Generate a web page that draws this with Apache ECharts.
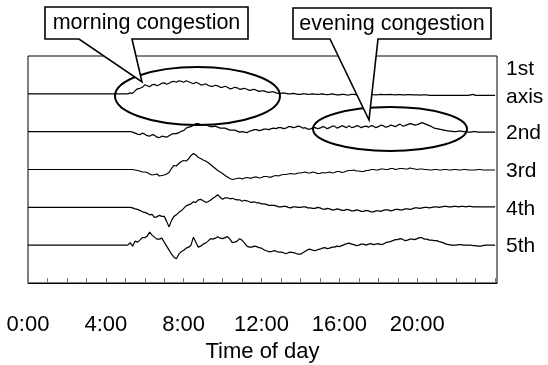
<!DOCTYPE html>
<html><head><meta charset="utf-8">
<script src="https://cdn.jsdelivr.net/npm/echarts@6/dist/echarts.min.js"></script>
<style>html,body{margin:0;padding:0;background:#fff}#c{width:548px;height:365px}</style>
</head><body><div id="c"></div>
<script>
// time axis in hours; readings every 0.125 h (7.5 min) from 5:15 to 24:00, traces flat before that
const START = 5.25;
const STEP = 0.125;
const xTicks = ['0:00','4:00','8:00','12:00','16:00','20:00'];
const traceNames = ['1st','2nd','3rd','4th','5th'];
// deviations from each trace's rest level (amplitude units)
const axle1 = [1,0.5,3,5,5.5,6.5,9,8,7,9, 9.5,8,9,10.5,11,9.5,10.5,12,12.5,11.5, 13,12.5,11.5,13,12,11,10,11.5,10.5,9, 9,10,8.5,7.5,7.5,8.5,8,6.5,6.5,7.5, 6.5,5,5.5,6.5,6,4.5,5,5.5,4.5,3.5, 4,4.5,3.5,2.5,3,3,2,1.5,2,2, 1,0.5,0.5,1,0.5,0,0,0.5,0,-0.5, -0.5,0,0,-0.5,-0.3,0,-0.3,-0.5,-0.3,0, -0.5,-0.8,-0.5,0,-0.5,-1,-1,-0.5,-0.5,-1.2, -1,-0.5,-0.5,-1,-0.5,-0.3,-0.5,-0.8,-0.8,-0.5, -0.8,-1,-0.8,-0.5,-0.8,-0.8,-0.8,-0.5,-0.8,-1, -0.8,-0.8,-1,-1,-0.8,-0.8,-1,-1,-1,-1.2, -1,-1,-1,-1.5,-1.5,-1.5,-1.5,-1.5,-1.5,-1.5, -1.5,-1.5,-1.5,-1.5,-1.5,-1.5,-1.5,-1.5,-1.5,-1.5, -1,-0.5,-1.5,-1.5,-1.5,-1.5,-1.5,-1.5,-1.5,-1.5,-1.5];
const axle2 = [0,-0.5,-1.5,-2.5,-3,-1.5,-2.5,-4,-4.5,-3, -3.5,-5.5,-6,-4.5,-5,-5.5,-4,-2.5,-2,-2, -1,0.5,1,3.5,4.5,5,6.5,8,8,7, 6.5,7,6,5,5,5.5,4.5,3.5,3.5,3.5, 2.5,1.5,1.5,1.5,0.5,-0.5,0,-0.5,-1,0.5, 1,2,2,1,1.5,2.5,2.5,2,3,3.5, 3,4,4,3,3.5,5,5,4,4.5,5.5, 5,3.5,4,2.5,2.5,4,4,3,3.5,5, 4.5,3,4,5.5,5.5,3.5,4.5,6,5,4, 6,4,4.5,6,5.5,4,5,5.5,4.5,6, 5.5,4,5,6.5,6,4.5,5,6.5,6,5, 6.5,7.5,5.5,6,7,8,7.5,6.5,7,8, 9,8,7,6,5,3.5,3,2.5,2,1.5, 1,0.5,0.5,0,0,0.5,0.5,0,0,-0.5, -0.5,0,0,-0.5,-0.5,-0.5,-0.5,-0.5,-0.5,-0.5,-0.5];
const axle3 = [0,0,-0.5,-1,-1.5,-2.5,-2.5,-3,-4.5,-5.5, -5,-4.5,-6.5,-6,-5.5,-4.5,-3,1,4,3.5, 6,8,9,8.5,10.5,14,16,14.5,12,11, 9.5,8.5,7,5,3,1,-1,-2.5,-4,-6, -7.5,-9,-10,-9.5,-9,-8.5,-9.5,-8.5,-8,-8.5, -8.5,-7.5,-7.5,-8.5,-8,-7,-7,-7.5,-7.5,-6.5, -6,-6.5,-5.5,-5,-5,-4.5,-4,-4.5,-4.5,-3.5, -3.5,-3,-2.5,-3.5,-3.5,-2.5,-3,-4,-4,-3, -3.5,-3,-2.5,-3.5,-3,-2,-2,-3,-2.5,-1.5, -1,-1,-0.5,-1.5,-1.5,-2,-2,-1,-1,0, 0,-0.5,-0.5,0.5,0.5,0,0,1,1,0, 0.5,1,1,0.5,0.5,1.5,1,0.5,0,0.5, 0.5,0,0,-0.5,-0.5,0,0,-0.5,-0.5,0, 0,-0.5,-0.5,0,0,-0.5,-0.5,0,0,-0.5, -0.5,-0.5,-0.5,0,0,-0.5,-0.5,-0.5,-0.5,-0.5,-0.5];
const axle4 = [0,-0.5,-1.5,-2,-3,-4.5,-5,-6,-7.5,-7, -10,-9.5,-8,-9,-9,-14,-19.5,-13,-9,-7.5, -5,-3.5,-1,1.5,2.5,3.5,5.5,5,7.5,8, 6.5,5,5.5,7,9,10.5,12.5,10,8,9.5, 9.5,8.5,9,8,7.5,7.5,6,7,6.5,5.5, 5,5.5,4.5,4.5,3.5,3.5,3,2,2,2, 1.5,0.5,0.5,1,1,0,-0.5,0.5,0.5,0, 0,0.5,0.5,-0.5,-0.5,-1,-1,0,-0.5,-1.5, -2,-1,-1.5,-2.5,-2.5,-1.5,-2,-3,-3,-2, -2.5,-3.5,-3.5,-2.5,-3,-4,-4,-3,-3.5,-4.5, -4.5,-3.5,-3.5,-4,-3,-2.5,-2.5,-3.5,-3,-2, -2,-2.5,-2.5,-1.5,-1.5,-2,-1.5,-0.5,-0.5,-1, -0.5,0,0,-0.5,0,0.5,0.5,0,0.5,1, 1,0.5,0.5,1,1,0.5,1,1,0.5,1, 1,0.5,0.5,0.5,0.5,0.5,0.5,0.5,0.5,0.5,0.5];
const axle5 = [2.5,-1,4,3,5,7.5,7.5,9,13,10, 8,6,6,7,3,-1,-5,-9,-12,-13.5, -9,-6.5,-5,-3,-2,0,8,3,-2,-1, 1,2,4,6.5,6,7,8.5,7,6.5,7.5, 8.5,6,2.5,3,4,6.5,5,2,-1,-2, -2,-1,-1.5,-2.5,-3,-4.5,-5.5,-6.5,-6.5,-5.5, -6,-7,-7,-7.5,-8.5,-7.5,-7,-7.5,-8,-9, -9,-7.5,-6,-4.5,-4,-5,-5.5,-4.5,-4,-3, -2.5,-3.5,-3,-2,-2,-1,-1.5,-0.5,0.5,1.5, 2,1,0.5,-0.5,0,1,1,0,1,1.5, 0.5,1,1.5,0.5,1,2.5,3,3.5,4.5,5.5, 5.5,6.5,6,4.5,5,6,6,5.5,6.5,7.5, 7.5,6,6,5,5,4.5,4.5,3.5,3,2, 1,0.5,0,0,0,0.5,0.5,0,0,0, 0,-0.5,-0.5,-1,-1,-0.5,0,0,0,0,0];
const traces = [axle1, axle2, axle3, axle4, axle5];
const restLevel = [5, 4, 3, 2, 1];
const AMP = 1 / 37.7;

function buildSeries(dev, level) {
  const pts = [];
  for (let h = 0; h < START - 1e-9; h += STEP) pts.push([h, level]);
  dev.forEach((d, i) => pts.push([START + i * STEP, level + d * AMP]));
  return pts;
}

const FONT = "'Liberation Sans', Arial, sans-serif";
const chart = echarts.init(document.getElementById('c'), null, {renderer: 'canvas'});
const series = traces.map((t, k) => ({
  type: 'line', data: buildSeries(t, restLevel[k]), symbol: 'none',
  lineStyle: {color: '#000', width: 1.2}, animation: false, z: 2
}));

chart.setOption({
  animation: false,
  grid: {left: 28, right: 51, top: 56, bottom: 82, show: true, borderColor: '#000', borderWidth: 1,
         containLabel: false, outerBoundsMode: 'none'},
  xAxis: {
    type: 'value', min: 0, max: 24.1, interval: 1,
    axisLine: {lineStyle: {color: '#000', width: 1}},
    axisTick: {inside: true, length: 5, lineStyle: {color: '#777'}},
    splitLine: {show: false},
    axisLabel: {
      margin: 31, fontSize: 22, color: '#000', fontFamily: FONT,
      formatter: v => (Math.abs(v % 4) < 1e-6 && v < 24 ? xTicks[v / 4] : '')
    },
    name: 'Time of day', nameLocation: 'middle', nameGap: 58,
    nameTextStyle: {fontSize: 22, color: '#000', fontFamily: FONT}
  },
  yAxis: {type: 'value', min: 0, max: 6, show: false},
  series: series
});

function px(x, y) { return chart.convertToPixel({gridIndex: 0}, [x, y]); }
const labelX = px(24.1, 0)[0] + 9;
const gfx = [];
const lbl = (t, y) => ({type: 'text', x: labelX, y: y, style: {text: t, font: '21px ' + FONT, fill: '#000', align: 'left', verticalAlign: 'middle'}});
traceNames.forEach((n, k) => {
  const y = px(0, restLevel[k])[1];
  if (k === 0) {
    gfx.push(lbl('1st', y + 3.5 - 28));
    gfx.push(lbl('axis', y + 3.5));
  } else {
    gfx.push(lbl(n, y + 1.5));
  }
});
// ellipses highlighting congestion periods
gfx.push({type: 'ellipse', shape: {cx: 197.5, cy: 96, rx: 82.5, ry: 29}, style: {fill: null, stroke: '#000', lineWidth: 2}, z: 10});
gfx.push({type: 'ellipse', shape: {cx: 390, cy: 129, rx: 77, ry: 22}, style: {fill: null, stroke: '#000', lineWidth: 2}, z: 10});
// callouts
gfx.push({type: 'polygon', shape: {points: [[45,7],[248,7],[248,39],[132,39],[142,82],[79,39],[45,39]]}, style: {fill: '#fff', stroke: '#000', lineWidth: 1.6}, z: 11});
gfx.push({type: 'text', x: 146.5, y: 23.5, style: {text: 'morning congestion', font: '21.5px ' + FONT, fill: '#000', align: 'center', verticalAlign: 'middle'}, z: 12});
gfx.push({type: 'polygon', shape: {points: [[293,8],[491,8],[491,39],[378,39],[369,120],[330,39],[293,39]]}, style: {fill: '#fff', stroke: '#000', lineWidth: 1.6}, z: 11});
gfx.push({type: 'text', x: 392, y: 24, style: {text: 'evening congestion', font: '21.5px ' + FONT, fill: '#000', align: 'center', verticalAlign: 'middle'}, z: 12});
chart.setOption({graphic: gfx});
</script></body></html>
